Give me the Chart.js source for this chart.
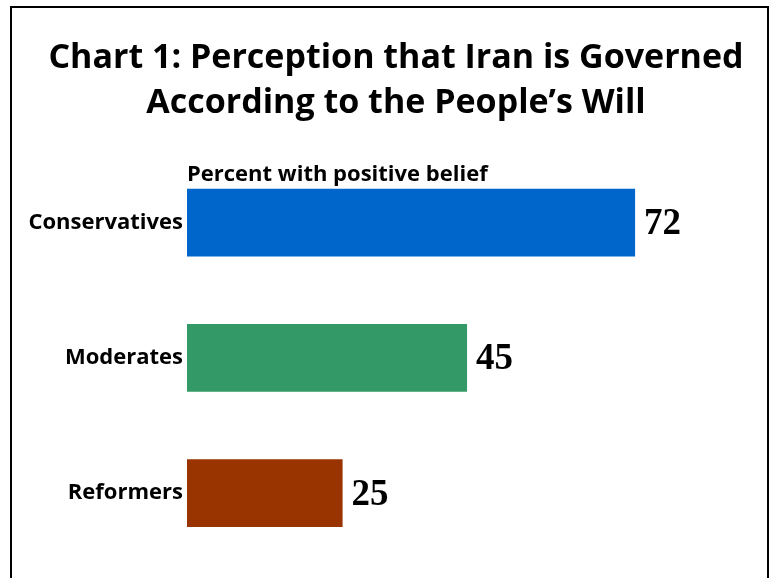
<!DOCTYPE html>
<html>
<head>
<meta charset="utf-8">
<script src="https://cdn.jsdelivr.net/npm/chart.js@4"></script>
<style>
  html, body { margin: 0; padding: 0; background: #fff; }
  #wrap { width: 771px; height: 578px; position: relative; }
</style>
</head>
<body>
<div id="wrap"><canvas id="chart"></canvas></div>
<script>
// данные
const categories = ['Conservatives', 'Moderates', 'Reformers'];
const values = [72, 45, 25];
const barColors = ['#0066CC', '#339966', '#993300'];
const titleLines = ['Chart 1: Perception that Iran is Governed', 'According to the People\u2019s Will'];
const subtitleText = 'Percent with positive belief';

// рамка и заголовок
const framePlugin = {
    id: 'frame',
    beforeDraw(chart) {
        const ctx = chart.ctx;
        ctx.save();
        ctx.fillStyle = '#fff';
        ctx.fillRect(0, 0, chart.width, chart.height);
        ctx.strokeStyle = '#000';
        ctx.lineWidth = 2;
        ctx.beginPath();
        ctx.moveTo(11, chart.height + 5);
        ctx.lineTo(11, 7);
        ctx.lineTo(768, 7);
        ctx.lineTo(768, chart.height + 5);
        ctx.stroke();

        ctx.fillStyle = '#000';
        ctx.font = 'bold 34px "Open Sans"';
        ctx.textAlign = 'center';
        ctx.textBaseline = 'alphabetic';
        titleLines.forEach((line, i) => {
            ctx.fillText(line, 396, 68 + i * 45);
        });
        ctx.restore();
    }
};

// подзаголовок и подписи значений
const labelsPlugin = {
    id: 'valueLabels',
    afterDatasetsDraw(chart) {
        const ctx = chart.ctx;
        const area = chart.chartArea;
        ctx.save();
        ctx.fillStyle = '#000';
        ctx.font = 'bold 22px "Open Sans"';
        ctx.textAlign = 'left';
        ctx.textBaseline = 'alphabetic';
        ctx.fillText(subtitleText, area.left, area.top + 26);

        ctx.font = 'bold 37px "Liberation Serif"';
        ctx.textBaseline = 'middle';
        const meta = chart.getDatasetMeta(0);
        meta.data.forEach((bar, i) => {
            ctx.fillText(String(values[i]), bar.x + 9, bar.y + 2);
        });
        ctx.restore();
    }
};

new Chart(document.getElementById('chart'), {
    type: 'bar',
    data: {
        labels: categories,
        datasets: [{
            data: values,
            backgroundColor: barColors,
            borderWidth: 0,
            barPercentage: 0.5,
            categoryPercentage: 1
        }]
    },
    options: {
        indexAxis: 'y',
        responsive: true,
        maintainAspectRatio: false,
        animation: false,
        layout: {
            padding: { top: 155, right: 55, bottom: 17, left: 0 }
        },
        plugins: {
            legend: { display: false },
            tooltip: { enabled: false },
            title: { display: false }
        },
        scales: {
            x: {
                display: false,
                min: 0,
                max: 85
            },
            y: {
                afterFit(scale) { scale.width = 187; },
                grid: { display: false, drawTicks: false },
                border: { display: false },
                ticks: {
                    color: '#000',
                    padding: 4,
                    font: { family: 'Open Sans', size: 22, weight: 'bold' }
                }
            }
        }
    },
    plugins: [framePlugin, labelsPlugin]
});
</script>
</body>
</html>
